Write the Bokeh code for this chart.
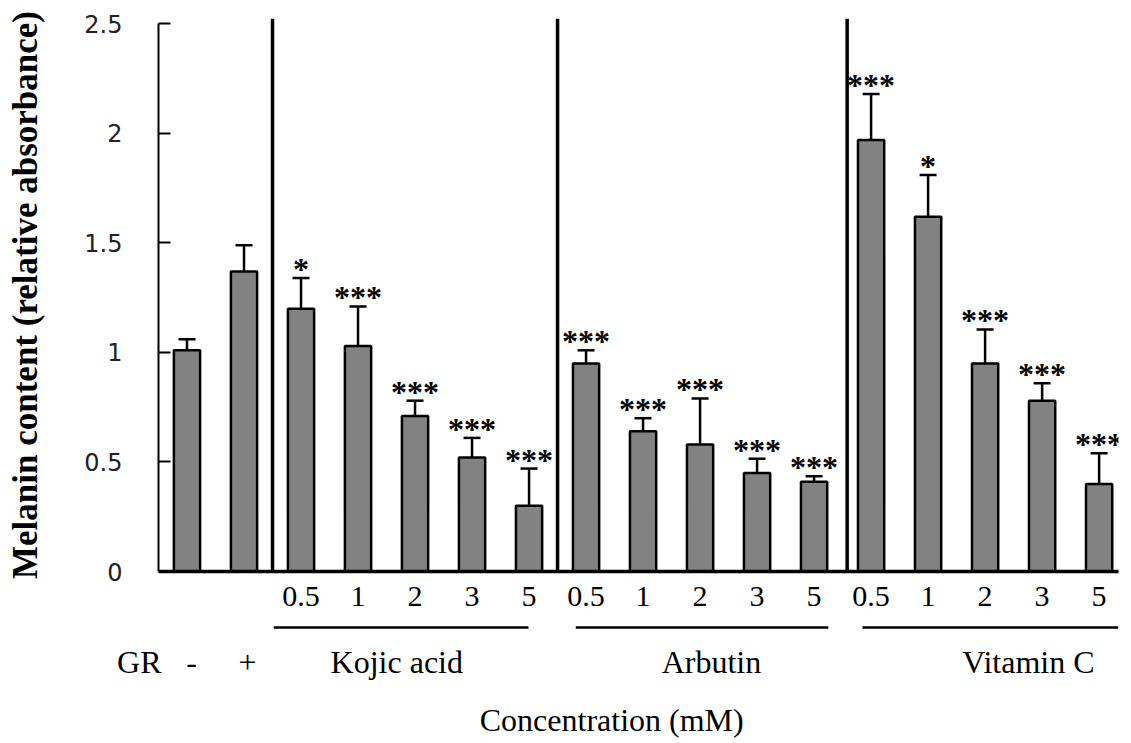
from bokeh.plotting import figure
from bokeh.layouts import column
from bokeh.models import Range1d, FixedTicker, ColumnDataSource, Whisker, TeeHead, LinearAxis
from bokeh.core.properties import value
from bokeh.embed import file_html
from bokeh.resources import INLINE

# ---------------- data ----------------
conc_labels = ["-", "+",
               "0.5", "1", "2", "3", "5",
               "0.5", "1", "2", "3", "5",
               "0.5", "1", "2", "3", "5"]
treatment = ["GR", "GR"] + ["Kojic acid"] * 5 + ["Arbutin"] * 5 + ["Vitamin C"] * 5
melanin = [1.01, 1.37,
           1.20, 1.03, 0.71, 0.52, 0.30,
           0.95, 0.64, 0.58, 0.45, 0.41,
           1.97, 1.62, 0.95, 0.78, 0.40]
error = [0.05, 0.12,
         0.14, 0.18, 0.07, 0.09, 0.17,
         0.06, 0.06, 0.21, 0.065, 0.025,
         0.21, 0.19, 0.155, 0.08, 0.14]
signif = ["", "",
          "*", "***", "***", "***", "***",
          "***", "***", "***", "***", "***",
          "***", "*", "***", "***", "***"]
group_names = ["Kojic acid", "Arbutin", "Vitamin C"]
row_label = "GR"
y_ticks = [0, 0.5, 1, 1.5, 2, 2.5]
y_tick_labels = ["0", "0.5", "1", "1.5", "2", "2.5"]
x_title = "Concentration (mM)"
y_title = "Melanin content (relative absorbance)"

# ---------------- layout constants ----------------
SERIF = "Liberation Serif"
W = 1123
LEFT, RIGHT, TOP = 158, 5, 18
FRAME_H = 553
TOP_BOTTOM_BORDER = 52
TOP_H = TOP + FRAME_H + TOP_BOTTOM_BORDER
BOT_H = 742 - TOP_H
X0, X1 = -0.5, 16.34
Y1 = 2.525
px_y = FRAME_H / Y1
ROW_Y = -0.415
LINE_Y = -0.256
TITLE_Y = -0.68

xs = list(range(len(melanin)))
upper = [m + e for m, e in zip(melanin, error)]
src = ColumnDataSource(dict(x=xs, top=melanin, upper=upper, sig=signif))

p = figure(width=W, height=TOP_H, output_backend="svg", toolbar_location=None,
           x_range=Range1d(X0, X1), y_range=Range1d(0, Y1),
           min_border_left=LEFT, min_border_right=RIGHT, min_border_top=TOP,
           min_border_bottom=TOP_BOTTOM_BORDER)
p.outline_line_color = None
p.grid.visible = False

# bars
p.vbar(x="x", top="top", width=0.46, source=src, fill_color="#828282",
       line_color="black", line_width=2.5)

# error bars (upper only)
p.add_layout(Whisker(source=src, base="x", lower="top", upper="upper",
                     line_color="black", line_width=2.5, lower_head=None,
                     upper_head=TeeHead(size=17, line_color="black", line_width=2.5)))

# significance stars
p.text(x="x", y="upper", text="sig", source=src, text_font=value(SERIF),
       text_font_size="32px", text_font_style="bold", text_align="center",
       text_baseline="alphabetic", y_offset=-9, text_color="black")

# group separators
first_idx = [treatment.index(g) for g in group_names]
last_idx = [len(treatment) - 1 - treatment[::-1].index(g) for g in group_names]
sep_x = [f - 0.5 for f in first_idx]
sep_x[-1] += 0.08
p.segment(x0=sep_x, y0=[0] * 3, x1=sep_x, y1=[Y1] * 3, line_color="black",
          line_width=3.5)

# axes
xa = p.xaxis[0]
xa.ticker = FixedTicker(ticks=xs[2:])
xa.major_label_overrides = {i: conc_labels[i] for i in xs[2:]}
xa.axis_line_width = 3.5
xa.axis_line_color = "black"
xa.major_tick_in = 0
xa.major_tick_out = 0
xa.minor_tick_in = 0
xa.minor_tick_out = 0
xa.major_label_standoff = 15
xa.major_label_text_font = SERIF
xa.major_label_text_font_size = "30px"
xa.major_label_text_color = "black"

ya = p.yaxis[0]
ya.ticker = FixedTicker(ticks=y_ticks)
ya.major_label_overrides = {t: l for t, l in zip(y_ticks, y_tick_labels)}
ya.bounds = (0, 2.5)
ya.axis_line_width = 2
ya.axis_line_color = "black"
ya.major_tick_in = 12
ya.major_tick_out = 0
ya.major_tick_line_width = 2
ya.minor_tick_in = 0
ya.minor_tick_out = 0
ya.major_label_standoff = 36
ya.major_label_text_font = "DejaVu Sans"
ya.major_label_text_font_size = "24px"
ya.major_label_text_color = "#222222"
ya.major_label_text_baseline = "top"
ya.axis_label = y_title
ya.axis_label_text_font = SERIF
ya.axis_label_text_font_style = "bold"
ya.axis_label_text_font_size = "35px"
ya.axis_label_text_color = "black"
ya.axis_label_standoff = 36

# ---------------- lower panel: group underlines and labels ----------------
by_top = -TOP_BOTTOM_BORDER / px_y
by_bot = by_top - BOT_H / px_y
q = figure(width=W, height=BOT_H, output_backend="svg", toolbar_location=None,
           x_range=p.x_range, y_range=Range1d(by_bot, by_top),
           x_axis_type=None, y_axis_type=None,
           min_border_left=LEFT, min_border_right=RIGHT, min_border_top=0,
           min_border_bottom=0)
q.outline_line_color = None
q.grid.visible = False

# row label "GR" as a tick label of a bare left axis
ra = LinearAxis(ticker=FixedTicker(ticks=[ROW_Y]),
                major_label_overrides={ROW_Y: row_label})
ra.axis_line_color = None
ra.major_tick_line_color = None
ra.minor_tick_line_color = None
ra.major_label_standoff = -9
ra.major_label_text_font = SERIF
ra.major_label_text_font_size = "32px"
ra.major_label_text_color = "black"
q.add_layout(ra, "left")

pad_l = [0.48, 0.18, 0.15]
pad_r = [-0.01, 0.25, 0.34]
label_shift = [-0.32, 0.2, 0.76]
q.segment(x0=[first_idx[k] - pad_l[k] for k in range(3)], y0=[LINE_Y] * 3,
          x1=[last_idx[k] + pad_r[k] for k in range(3)], y1=[LINE_Y] * 3,
          line_color="black", line_width=2.5)

lab_x = [(first_idx[k] + last_idx[k]) / 2 + label_shift[k] for k in range(3)]
q.text(x=lab_x, y=[ROW_Y] * 3, text=group_names, text_font=value(SERIF),
       text_font_size="32px", text_align="center", text_baseline="middle",
       text_color="black")
q.text(x=[xs[0] + 0.08, xs[1] + 0.06], y=[ROW_Y] * 2, text=conc_labels[:2],
       text_font=value(SERIF), text_font_size="32px", text_align="center",
       text_baseline="middle", text_color="black")
q.text(x=[7.45], y=[TITLE_Y], text=[x_title], text_font=value(SERIF),
       text_font_size="32px", text_align="center", text_baseline="middle",
       text_color="black")

layout = column(p, q, spacing=0)
open("out.html", "w").write(file_html(layout, INLINE))
